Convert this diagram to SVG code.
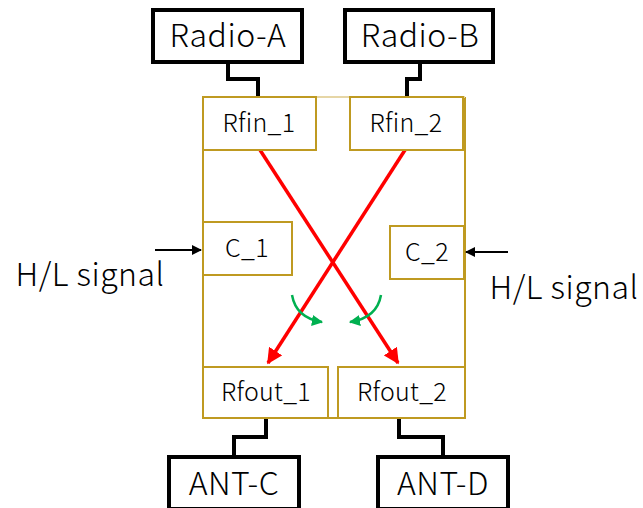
<svg xmlns="http://www.w3.org/2000/svg" width="643" height="508" viewBox="0 0 643 508">
<defs>
<style>
.ext{fill:#fff;stroke:#000;stroke-width:4}
.blk{fill:#fff;stroke:#BF9A21;stroke-width:2}
.big{font-family:"Noto Sans CJK JP","Noto Sans",sans-serif;font-weight:300;font-size:32px;letter-spacing:0.5px;fill:#000;text-anchor:middle}
.sm{font-family:"Noto Sans CJK JP","Noto Sans",sans-serif;font-weight:300;font-size:25px;letter-spacing:0.3px;fill:#000;text-anchor:middle}
.wire{fill:none;stroke:#000;stroke-width:4}
.red{fill:none;stroke:#FF0000;stroke-width:3.5}
.grn{fill:none;stroke:#00B050;stroke-width:2.5}
.sig{fill:none;stroke:#000;stroke-width:2}
</style>
<marker id="ar" viewBox="0 0 10 10" refX="9" refY="5" markerWidth="4.5" markerHeight="4.5" orient="auto" markerUnits="strokeWidth"><path d="M0,0 L10,5 L0,10 z" fill="#FF0000"/></marker>
<marker id="ag" viewBox="0 0 10 10" refX="9" refY="5" markerWidth="4.5" markerHeight="4.5" orient="auto" markerUnits="strokeWidth"><path d="M0,0 L10,5 L0,10 z" fill="#00B050"/></marker>
<marker id="ak" viewBox="0 0 10 10" refX="9" refY="5" markerWidth="5" markerHeight="5" orient="auto" markerUnits="strokeWidth"><path d="M0,0 L10,5 L0,10 z" fill="#000"/></marker>
</defs>
<g id="switch">
<path d="M203,97 V418 H465 V97" fill="#fff" stroke="#BF9A21" stroke-width="2"/>
<line x1="203" y1="97" x2="465" y2="97" stroke="#E6D6A6" stroke-width="2"/>
</g>
<g id="connectors">
<path class="wire" d="M228,62 V79 H258 V97"/>
<path class="wire" d="M420,62 V79 H407 V97"/>
<path class="wire" d="M266,418 V437 H234 V457"/>
<path class="wire" d="M399,418 V437 H443 V457"/>
<path class="red" d="M260,150 L398,363" marker-end="url(#ar)"/>
<path class="red" d="M405,150 L268,363" marker-end="url(#ar)"/>
<path class="grn" d="M292,295 Q296,318 322,322" marker-end="url(#ag)"/>
<path class="grn" d="M381,295 Q377,318 350,322" marker-end="url(#ag)"/>
<path class="sig" d="M155,250 H201" marker-end="url(#ak)"/>
<path class="sig" d="M508,252 H466" marker-end="url(#ak)"/>
</g>
<g id="radio-a"><rect class="ext" x="153" y="10" width="149" height="52"/><text class="big" x="228" y="47">Radio-A</text></g>
<g id="radio-b"><rect class="ext" x="345" y="10" width="148" height="52"/><text class="big" x="420" y="47">Radio-B</text></g>
<g id="rfin1"><rect class="blk" x="203" y="97" width="113" height="53"/><text class="sm" x="259" y="132">Rfin_1</text></g>
<g id="rfin2"><rect class="blk" x="350" y="97" width="113" height="53"/><text class="sm" x="406" y="132">Rfin_2</text></g>
<g id="c1"><rect class="blk" x="203" y="222" width="89" height="53"/><text class="sm" x="247" y="257">C_1</text></g>
<g id="c2"><rect class="blk" x="390" y="226" width="74" height="53"/><text class="sm" x="427" y="261">C_2</text></g>
<g id="rfout1"><rect class="blk" x="203" y="367" width="125" height="51"/><text class="sm" x="266" y="401">Rfout_1</text></g>
<g id="rfout2"><rect class="blk" x="338" y="367" width="127" height="51"/><text class="sm" x="402" y="401">Rfout_2</text></g>
<g id="ant-c"><rect class="ext" x="169" y="457" width="130" height="52"/><text class="big" x="234" y="495">ANT-C</text></g>
<g id="ant-d"><rect class="ext" x="378" y="457" width="130" height="52"/><text class="big" x="443" y="495">ANT-D</text></g>
<g id="sig-left"><text class="big" x="90" y="286">H/L signal</text></g>
<g id="sig-right"><text class="big" x="564" y="299">H/L signal</text></g>
</svg>
